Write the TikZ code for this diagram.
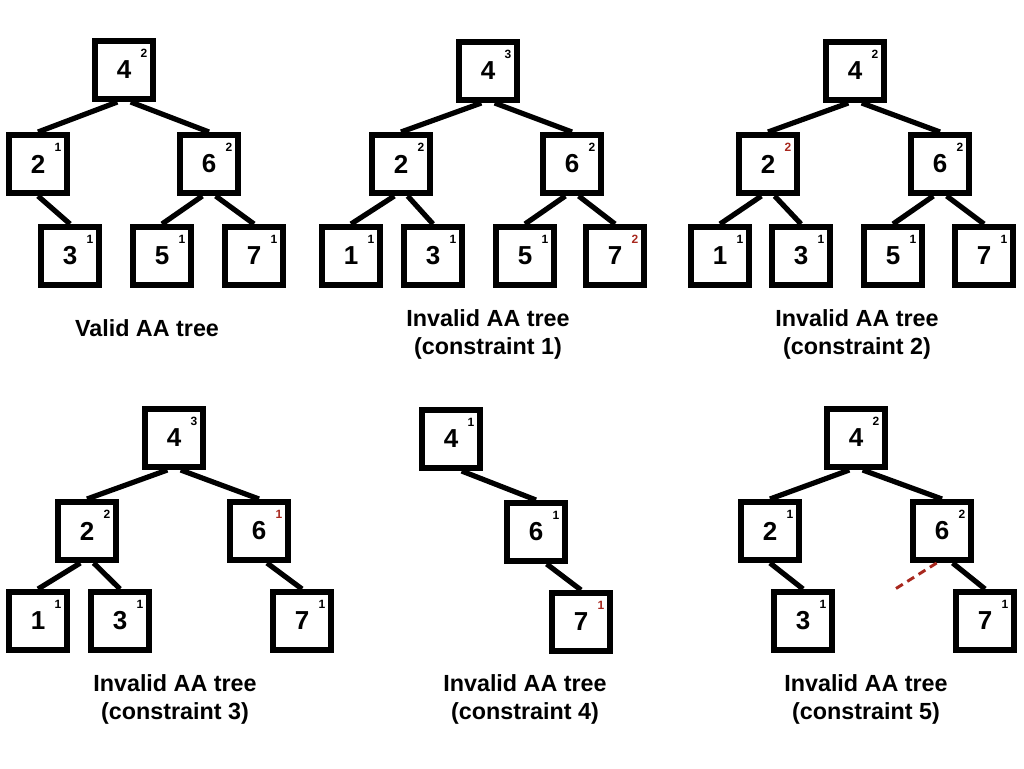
\documentclass[tikz,border=0pt]{standalone}
\usepackage{fontspec}
\setmainfont{Liberation Sans}
\usetikzlibrary{calc}
\definecolor{lvlred}{RGB}{168,40,30}

\begin{document}
\begin{tikzpicture}[x=0.75pt,y=-0.75pt,
  key/.style={draw, fill=white, line width=4.2pt, minimum size=43.8pt, inner sep=0pt,
    font=\bfseries\fontsize{19.5}{21}\selectfont},
  lvl/.style={anchor=center, inner sep=0pt, xshift=15pt, yshift=12.5pt,
    font=\bfseries\fontsize{9}{10}\selectfont},
  caption/.style={anchor=base, align=center, inner sep=0pt,
    font=\bfseries\fontsize{17.5}{21}\selectfont},
  link/.style={line width=3.9pt}]

\useasboundingbox (0,0) rectangle (1024,768);

% valid tree
\node[key, label={[lvl]center:2}] (a4) at (124,70) {4};
\node[key, label={[lvl]center:1}] (a2) at (38,164) {2};
\node[key, label={[lvl]center:2}] (a6) at (209,164) {6};
\node[key, label={[lvl]center:1}] (a3) at (70,256) {3};
\node[key, label={[lvl]center:1}] (a5) at (162,256) {5};
\node[key, label={[lvl]center:1}] (a7) at (254,256) {7};
\node[caption] at (147,336) {Valid AA tree};

% constraint 1
\node[key, label={[lvl]center:3}] (b4) at (488,71) {4};
\node[key, label={[lvl]center:2}] (b2) at (401,164) {2};
\node[key, label={[lvl]center:2}] (b6) at (572,164) {6};
\node[key, label={[lvl]center:1}] (b1) at (351,256) {1};
\node[key, label={[lvl]center:1}] (b3) at (433,256) {3};
\node[key, label={[lvl]center:1}] (b5) at (525,256) {5};
\node[key, label={[lvl,lvlred]center:2}] (b7) at (615,256) {7};
\node[caption] at (488,354) {Invalid AA tree\\(constraint 1)};

% constraint 2
\node[key, label={[lvl]center:2}] (c4) at (855,71) {4};
\node[key, label={[lvl,lvlred]center:2}] (c2) at (768,164) {2};
\node[key, label={[lvl]center:2}] (c6) at (940,164) {6};
\node[key, label={[lvl]center:1}] (c1) at (720,256) {1};
\node[key, label={[lvl]center:1}] (c3) at (801,256) {3};
\node[key, label={[lvl]center:1}] (c5) at (893,256) {5};
\node[key, label={[lvl]center:1}] (c7) at (984,256) {7};
\node[caption] at (857,354) {Invalid AA tree\\(constraint 2)};

% constraint 3
\node[key, label={[lvl]center:3}] (d4) at (174,438) {4};
\node[key, label={[lvl]center:2}] (d2) at (87,531) {2};
\node[key, label={[lvl,lvlred]center:1}] (d6) at (259,531) {6};
\node[key, label={[lvl]center:1}] (d1) at (38,621) {1};
\node[key, label={[lvl]center:1}] (d3) at (120,621) {3};
\node[key, label={[lvl]center:1}] (d7) at (302,621) {7};
\node[caption] at (175,719) {Invalid AA tree\\(constraint 3)};

% constraint 4
\node[key, label={[lvl]center:1}] (e4) at (451,439) {4};
\node[key, label={[lvl]center:1}] (e6) at (536,532) {6};
\node[key, label={[lvl,lvlred]center:1}] (e7) at (581,622) {7};
\node[caption] at (525,719) {Invalid AA tree\\(constraint 4)};

% constraint 5
\node[key, label={[lvl]center:2}] (f4) at (856,438) {4};
\node[key, label={[lvl]center:1}] (f2) at (770,531) {2};
\node[key, label={[lvl]center:2}] (f6) at (942,531) {6};
\node[key, label={[lvl]center:1}] (f3) at (803,621) {3};
\node[key, label={[lvl]center:1}] (f7) at (985,621) {7};
\coordinate (f5gap) at (892,591);
\node[caption] at (866,719) {Invalid AA tree\\(constraint 5)};

\begin{scope}[link]
\draw ([xshift=-5pt]a4.south) -- (a2.north);
\draw ([xshift=5pt]a4.south) -- (a6.north);
\draw (a2.south) -- (a3.north);
\draw ([xshift=-5pt]a6.south) -- (a5.north);
\draw ([xshift=5pt]a6.south) -- (a7.north);

\draw ([xshift=-5pt]b4.south) -- (b2.north);
\draw ([xshift=5pt]b4.south) -- (b6.north);
\draw ([xshift=-5pt]b2.south) -- (b1.north);
\draw ([xshift=5pt]b2.south) -- (b3.north);
\draw ([xshift=-5pt]b6.south) -- (b5.north);
\draw ([xshift=5pt]b6.south) -- (b7.north);

\draw ([xshift=-5pt]c4.south) -- (c2.north);
\draw ([xshift=5pt]c4.south) -- (c6.north);
\draw ([xshift=-5pt]c2.south) -- (c1.north);
\draw ([xshift=5pt]c2.south) -- (c3.north);
\draw ([xshift=-5pt]c6.south) -- (c5.north);
\draw ([xshift=5pt]c6.south) -- (c7.north);

\draw ([xshift=-5pt]d4.south) -- (d2.north);
\draw ([xshift=5pt]d4.south) -- (d6.north);
\draw ([xshift=-5pt]d2.south) -- (d1.north);
\draw ([xshift=5pt]d2.south) -- (d3.north);
\draw ([xshift=6pt]d6.south) -- (d7.north);

\draw ([xshift=8pt]e4.south) -- (e6.north);
\draw ([xshift=8pt]e6.south) -- (e7.north);

\draw ([xshift=-5pt]f4.south) -- (f2.north);
\draw ([xshift=5pt]f4.south) -- (f6.north);
\draw (f2.south) -- (f3.north);
\draw ([xshift=8pt]f6.south) -- (f7.north);
\end{scope}

\draw[lvlred, line width=2.2pt, dash pattern=on 6pt off 4pt] ([xshift=-4pt]f6.south) -- (f5gap);
\end{tikzpicture}
\end{document}
